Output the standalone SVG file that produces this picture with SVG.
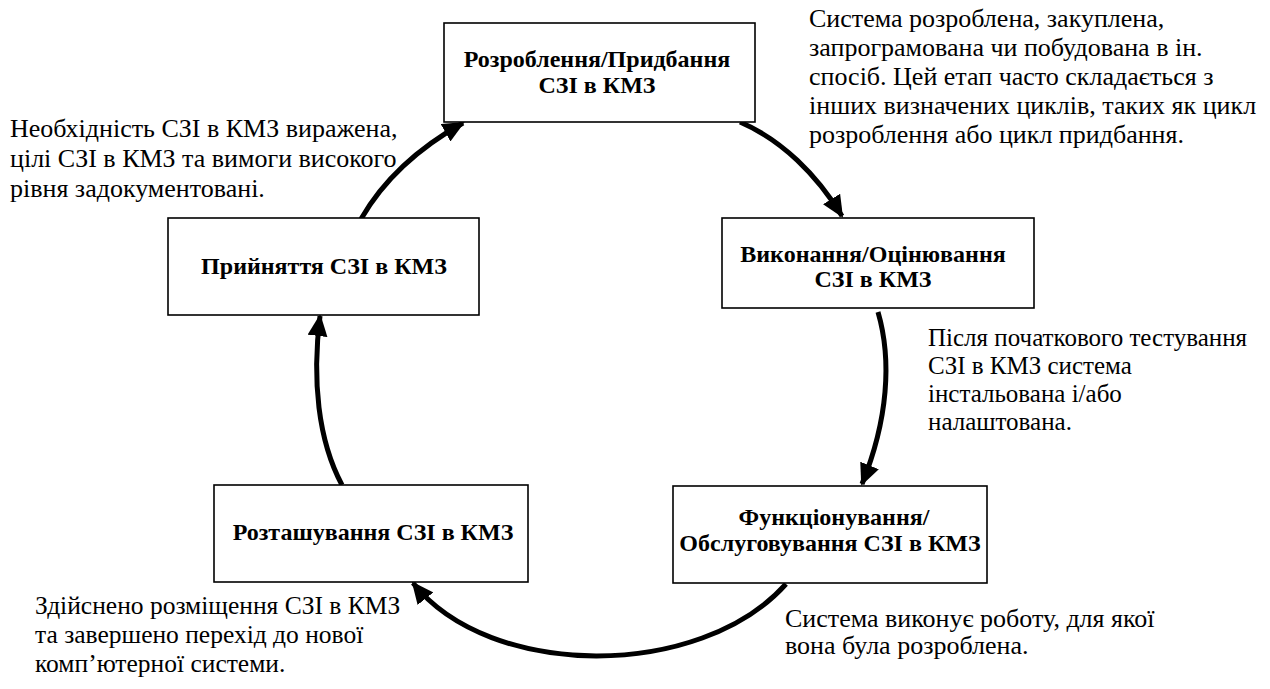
<svg xmlns="http://www.w3.org/2000/svg" width="1270" height="689" viewBox="0 0 1270 689">
<style>
.box{fill:#fff;stroke:#000;stroke-width:1.6}
.lbl{font-family:'Liberation Serif','DejaVu Serif',serif;font-weight:bold;font-size:24px;text-anchor:middle;fill:#000}
.txt{font-family:'Liberation Serif','DejaVu Serif',serif;font-size:26px;fill:#000}
.arr{fill:none;stroke:#000;stroke-width:5;marker-end:url(#ah)}
</style>
<defs>
<marker id="ah" markerUnits="userSpaceOnUse" markerWidth="22" markerHeight="20" refX="20" refY="10" orient="auto">
<path d="M0,0 L22,10 L0,20 Z" fill="#000"/>
</marker>
</defs>
<rect width="1270" height="689" fill="#fff"/>
<g id="connectors">
<path class="arr" d="M740,122 C782,140 817,175 842,216"/>
<path class="arr" d="M878,312 C892,360 888,420 862,484"/>
<path class="arr" d="M786,584 C700,680 490,680 413,583"/>
<path class="arr" d="M342,485 C318,440 312,380 320,316"/>
<path class="arr" d="M361,219 C384,179 420,147 463,123"/>
</g>
<g id="n1"><rect class="box" x="444" y="23" width="311" height="99"/>
<text class="lbl" x="597" y="67">Розроблення/Придбання</text>
<text class="lbl" x="597" y="93">СЗІ в КМЗ</text></g>
<g id="n2"><rect class="box" x="722" y="218" width="312" height="90"/>
<text class="lbl" x="873" y="262">Виконання/Оцінювання</text>
<text class="lbl" x="873" y="287">СЗІ в КМЗ</text></g>
<g id="n3"><rect class="box" x="168" y="218" width="311" height="97"/>
<text class="lbl" x="324" y="274">Прийняття СЗІ в КМЗ</text></g>
<g id="n4"><rect class="box" x="673" y="486" width="314" height="97"/>
<text class="lbl" x="834" y="525">Функціонування/</text>
<text class="lbl" x="830" y="551">Обслуговування СЗІ в КМЗ</text></g>
<g id="n5"><rect class="box" x="214" y="485" width="314" height="97"/>
<text class="lbl" x="373" y="540">Розташування СЗІ в КМЗ</text></g>
<g id="t1"><text class="txt">
<tspan x="10" y="137">Необхідність СЗІ в КМЗ виражена,</tspan>
<tspan x="10" y="167">цілі СЗІ в КМЗ та вимоги високого</tspan>
<tspan x="10" y="197">рівня задокументовані.</tspan></text></g>
<g id="t2"><text class="txt">
<tspan x="809" y="27">Система розроблена, закуплена,</tspan>
<tspan x="809" y="56">запрограмована чи побудована в ін.</tspan>
<tspan x="809" y="85">спосіб. Цей етап часто складається з</tspan>
<tspan x="809" y="114">інших визначених циклів, таких як цикл</tspan>
<tspan x="809" y="143">розроблення або цикл придбання.</tspan></text></g>
<g id="t3"><text class="txt" style="font-size:25px">
<tspan x="928" y="346">Після початкового тестування</tspan>
<tspan x="928" y="374">СЗІ в КМЗ система</tspan>
<tspan x="928" y="402">інстальована і/або</tspan>
<tspan x="928" y="430">налаштована.</tspan></text></g>
<g id="t4"><text class="txt" style="font-size:25.5px">
<tspan x="35" y="614">Здійснено розміщення СЗІ в КМЗ</tspan>
<tspan x="35" y="643">та завершено перехід до нової</tspan>
<tspan x="35" y="672">комп’ютерної системи.</tspan></text></g>
<g id="t5"><text class="txt">
<tspan x="785" y="627">Система виконує роботу, для якої</tspan>
<tspan x="785" y="654">вона була розроблена.</tspan></text></g>
</svg>
